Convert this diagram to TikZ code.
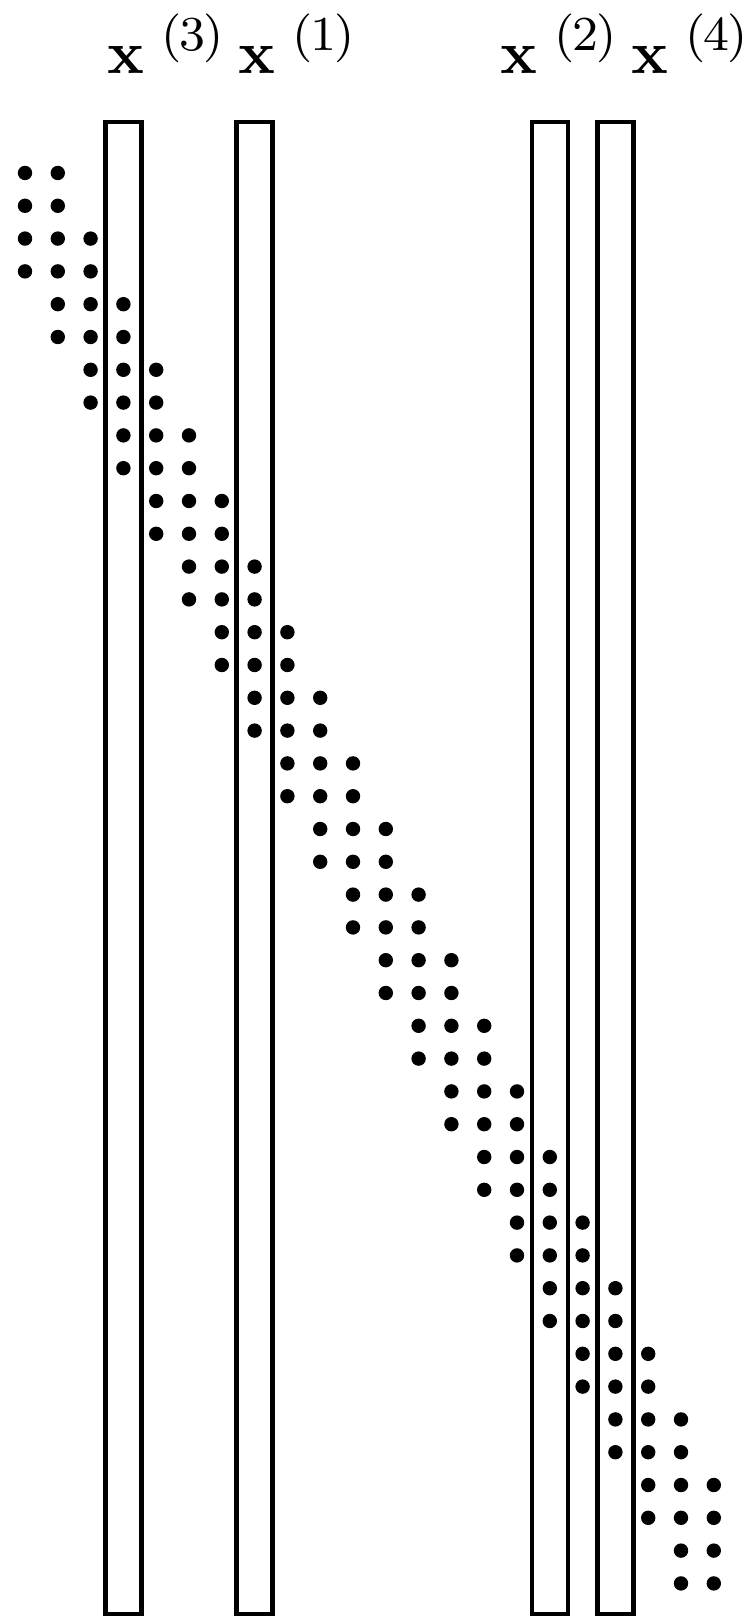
\documentclass[tikz,border=0pt]{standalone}
\newcommand\veclbl[1]{$\mathbf{x}$\kern2.85pt\raisebox{3.93pt}{\fontsize{8}{9}\selectfont(\kern-0.36pt#1\kern-0.36pt)}}
\begin{document}
\begin{tikzpicture}[x=0.16393pt, y=-0.16393pt,
  vec/.style={draw, line width=4.6*0.16393pt, minimum width=36*0.16393pt,
    minimum height=1492*0.16393pt, inner sep=0pt, outer sep=0pt},
  lab/.style={anchor=base west, inner sep=0pt, outer sep=0pt, font=\fontsize{10}{12}\selectfont}]
\useasboundingbox (0,0) rectangle (752,1619);
% banded matrix dots
\foreach \k in {0,...,21}{
  \foreach \d in {-1,0,1}{
    \pgfmathtruncatemacro\c{\k+\d}
    \ifnum\c>-1 \ifnum\c<22
      \fill (25+32.8*\c, 173+65.6*\k) circle[radius=7.2*0.16393pt];
      \fill (25+32.8*\c, 205.8+65.6*\k) circle[radius=7.2*0.16393pt];
    \fi\fi
  }
}
% vectors
\node[vec] (v3) at (25+32.8*3, 867.9) {};
\node[vec] (v1) at (25+32.8*7, 867.9) {};
\node[vec] (v2) at (25+32.8*16, 867.9) {};
\node[vec] (v4) at (25+32.8*18, 867.9) {};
% labels
\node[lab] (l3) at (107.1, 74) {\veclbl{3}};
\node[lab] (l1) at (238.1, 74) {\veclbl{1}};
\node[lab] (l2) at (500.5, 74) {\veclbl{2}};
\node[lab] (l4) at (631.5, 74) {\veclbl{4}};
\end{tikzpicture}
\end{document}
